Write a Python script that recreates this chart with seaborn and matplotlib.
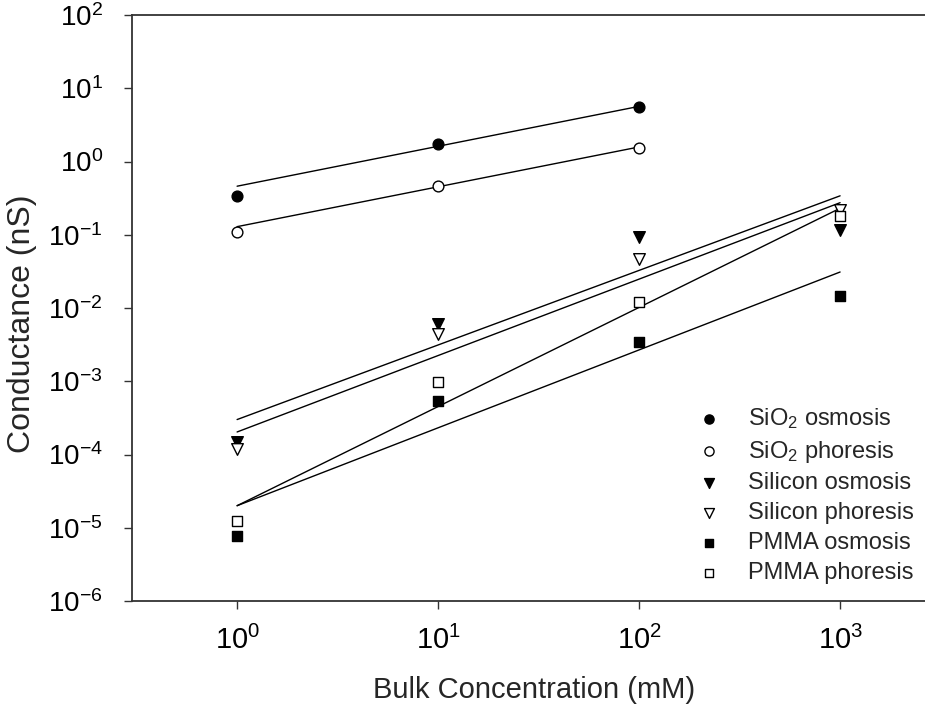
import matplotlib
matplotlib.use('Agg')
import matplotlib.pyplot as plt
import matplotlib.ticker as mticker
import seaborn as sns
import numpy as np

# concentrations (mM)
conc_sio2 = [1, 10, 100]
conc_all = [1, 10, 100, 1000]

# measured conductance (nS)
sio2_osmosis = [0.34, 1.71, 5.6]
sio2_phoresis = [0.11, 0.46, 1.52]
silicon_osmosis = [1.5e-4, 6.0e-3, 0.092, 0.116]
silicon_phoresis = [1.2e-4, 4.4e-3, 0.047, 0.22]
pmma_osmosis = [7.8e-6, 5.4e-4, 3.4e-3, 0.0147]
pmma_phoresis = [1.24e-5, 9.9e-4, 0.0122, 0.18]

# power-law fit lines, values at first and last concentration
fit_x_sio2 = [1, 100]
fit_x_all = [1, 1000]
sio2_osmosis_fit = [0.46, 5.66]
sio2_phoresis_fit = [0.129, 1.58]
silicon_osmosis_fit = [3.0e-4, 0.34]
silicon_phoresis_fit = [2.03e-4, 0.274]
pmma_osmosis_fit = [2.0e-5, 0.031]
pmma_phoresis_fit = [2.0e-5, 0.23]

sns.set_theme(style='ticks')
plt.rcParams['font.family'] = ['Liberation Sans', 'DejaVu Sans']
plt.rcParams['mathtext.fontset'] = 'custom'
plt.rcParams['mathtext.rm'] = 'Liberation Sans'
plt.rcParams['mathtext.it'] = 'Liberation Sans:italic'
plt.rcParams['mathtext.bf'] = 'Liberation Sans:bold'

fig = plt.figure(figsize=(9.25, 7.11), dpi=100)
ax = fig.add_axes([132 / 925, 110 / 711, 804 / 925, 586 / 711])

series = [
    ('SiO$_2$ osmosis', conc_sio2, sio2_osmosis, 'o', 'black', 60),
    ('SiO$_2$ phoresis', conc_sio2, sio2_phoresis, 'o', 'white', 60),
    ('Silicon osmosis', conc_all, silicon_osmosis, 'v', 'black', 70),
    ('Silicon phoresis', conc_all, silicon_phoresis, 'v', 'white', 70),
    ('PMMA osmosis', conc_all, pmma_osmosis, 's', 'black', 50),
    ('PMMA phoresis', conc_all, pmma_phoresis, 's', 'white', 50),
]

fits = [
    (fit_x_sio2, sio2_osmosis_fit),
    (fit_x_sio2, sio2_phoresis_fit),
    (fit_x_all, silicon_osmosis_fit),
    (fit_x_all, silicon_phoresis_fit),
    (fit_x_all, pmma_osmosis_fit),
    (fit_x_all, pmma_phoresis_fit),
]

for fx, fy in fits:
    sns.lineplot(x=fx, y=fy, color='black', linewidth=1.0, ax=ax, zorder=2)

for label, x, y, marker, face, size in series:
    sns.scatterplot(x=x, y=y, marker=marker, s=size, facecolors=face,
                    edgecolors='black', linewidth=1.0, label=label, ax=ax, zorder=3)

ax.set_xscale('log')
ax.set_yscale('log')
ax.set_xlim(0.3, 3000)
ax.set_ylim(1e-6, 1e2)
ax.xaxis.set_major_locator(mticker.LogLocator(base=10, numticks=10))
ax.yaxis.set_major_locator(mticker.LogLocator(base=10, numticks=12))
ax.xaxis.set_minor_locator(mticker.NullLocator())
ax.yaxis.set_minor_locator(mticker.NullLocator())

for side in ['left', 'bottom', 'top']:
    ax.spines[side].set_linewidth(1.3)
    ax.spines[side].set_color('#333333')
ax.spines['right'].set_visible(False)

ax.tick_params(axis='both', which='major', direction='out', length=6, width=1.0,
               color='#333333', labelcolor='black')
ax.tick_params(axis='y', labelsize=20, pad=15)
ax.tick_params(axis='x', labelsize=21, pad=12)

ax.set_xlabel('Bulk Concentration (mM)', fontsize=21, labelpad=15)
ax.set_ylabel('Conductance (nS)', fontsize=23)
ax.yaxis.set_label_coords(-0.118, 0.473)

ax.legend(loc='upper left', bbox_to_anchor=(697 / 925, 1 - 406 / 711),
          bbox_transform=fig.transFigure, frameon=False, fontsize=17,
          markerscale=0.85, handlelength=1.0, handletextpad=1.15,
          labelspacing=0.33, borderpad=0, borderaxespad=0)

fig.savefig('out.png', dpi=100)
